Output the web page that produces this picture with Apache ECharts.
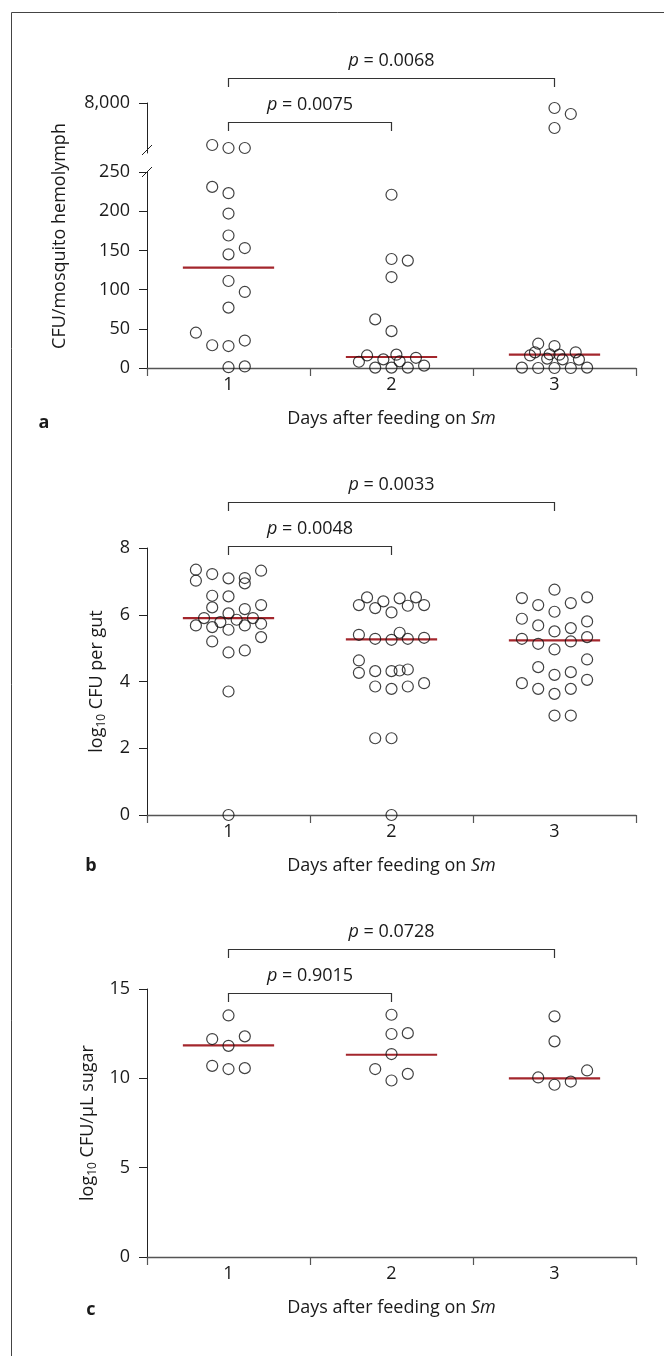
<!DOCTYPE html>
<html><head><meta charset="utf-8">
<script src="https://cdn.jsdelivr.net/npm/echarts@6/dist/echarts.min.js"></script>
<style>html,body{margin:0;padding:0;background:#fff}#c{width:664px;height:1356px}</style>
</head><body><div id="c"></div>
<script>
// ---------- DATA ----------
const days = ['1', '2', '3'];
const xTitle = 'Days after feeding on {it|Sm}';

// Panel a: CFU/mosquito hemolymph  ([jitter offset, value])
const hemoTicksLower = [0, 50, 100, 150, 200, 250];
const hemoTicksUpper = [8000];
const hemoDay1 = [[-0.2,45],[-0.1,231],[-0.1,29],[0,223],[0,197],[0,169],[0,145],[0,111],[0,77],[0,28],[0,1],[0.1,153],[0.1,97],[0.1,35],[0.1,2]];
const hemoDay2 = [[0,221],[0,139],[0.1,137],[0,116],[-0.1,62],[0,47],[-0.15,16],[-0.2,8],[-0.1,0.5],[-0.05,11],[0,0.5],[0.03,17],[0.05,8.5],[0.1,0.5],[0.15,13],[0.2,3]];
const hemoDay3 = [[-0.2,0.5],[-0.1,0],[0,0],[0.1,0],[0.2,0.5],[-0.15,16],[-0.12,20],[-0.1,31],[-0.045,12],[-0.03,17.5],[0,28],[0.03,17],[0.05,11],[0.13,20],[0.15,10.7]];
const hemoHighDay1 = [[-0.1,3800],[0,3500],[0.1,3500]];
const hemoHighDay3 = [[0,7500],[0.1,6900],[0,5500]];
const hemoMedians = [128, 14, 17];
const hemoP = [{from:1, to:3, p:'0.0068'}, {from:1, to:2, p:'0.0075'}];

// Panel b: log10 CFU per gut
const gutTicks = [0, 2, 4, 6, 8];
const gutDay1 = [[-0.2,7.35],[-0.2,7.02],[-0.1,7.22],[0,7.09],[0.1,7.10],[0.1,6.94],[0.2,7.32],[-0.1,6.57],[0,6.55],[-0.1,6.22],[0.1,6.17],[0.2,6.29],[0,6.04],[-0.15,5.90],[-0.05,5.78],[0.05,5.85],[0.15,5.90],[-0.2,5.68],[-0.1,5.63],[0,5.55],[0.1,5.68],[0.2,5.73],[0.2,5.33],[-0.1,5.20],[0,4.87],[0.1,4.93],[0,3.70],[0,0]];
const gutDay2 = [[-0.15,6.52],[-0.2,6.29],[-0.05,6.40],[-0.1,6.20],[0,6.07],[0.05,6.49],[0.15,6.52],[0.1,6.27],[0.2,6.29],[-0.2,5.40],[-0.1,5.28],[0,5.25],[0.05,5.46],[0.1,5.28],[0.2,5.31],[-0.2,4.63],[-0.2,4.26],[-0.1,4.31],[0,4.31],[0.05,4.33],[0.1,4.36],[-0.1,3.85],[0,3.78],[0.1,3.85],[0.2,3.95],[-0.1,2.30],[0,2.30],[0,0]];
const gutDay3 = [[0,6.75],[-0.2,6.50],[0.2,6.52],[-0.1,6.29],[0.1,6.35],[0,6.09],[-0.2,5.88],[0.2,5.80],[-0.1,5.68],[0.1,5.60],[0,5.50],[-0.2,5.28],[0.2,5.33],[-0.1,5.13],[0.1,5.20],[0,4.96],[0.2,4.66],[-0.1,4.43],[0.1,4.28],[0,4.20],[0.2,4.05],[-0.2,3.95],[-0.1,3.78],[0,3.63],[0.1,3.78],[0,2.98],[0.1,2.98]];
const gutMedians = [5.90, 5.26, 5.23];
const gutP = [{from:1, to:3, p:'0.0033'}, {from:1, to:2, p:'0.0048'}];

// Panel c: log10 CFU/µL sugar
const sugarTicks = [0, 5, 10, 15];
const sugarDay1 = [[0,13.52],[-0.1,12.20],[0.1,12.35],[0,11.82],[-0.1,10.70],[0,10.52],[0.1,10.57]];
const sugarDay2 = [[0,13.56],[0,12.48],[0.1,12.53],[0,11.36],[-0.1,10.52],[0.1,10.25],[0,9.88]];
const sugarDay3 = [[0,13.47],[0,12.07],[-0.1,10.05],[0,9.64],[0.1,9.82],[0.2,10.44]];
const sugarMedians = [11.84, 11.32, 10.0];
const sugarP = [{from:1, to:3, p:'0.0728'}, {from:1, to:2, p:'0.9015'}];

// ---------- LAYOUT / STYLE ----------
const FONT = 'Open Sans';
const FS = 18;
const TXT = '#1a1a1a';
const GL = 147, GR = 28;
const MEDIAN_HALF = 0.28;
const RED = '#a3262c';

function toPts(arrs) {
  const out = [];
  arrs.forEach((arr, i) => arr.forEach(([dx, v]) => out.push([i + 1 + dx, v])));
  return out;
}

const grids = [
  {left: GL, right: GR, top: 103, height: 50},   // a upper (break)
  {left: GL, right: GR, top: 172, height: 196},  // a lower
  {left: GL, right: GR, top: 548, height: 267},  // b
  {left: GL, right: GR, top: 989, height: 268}   // c
];

const labelStyle = {fontSize: FS, fontFamily: FONT, color: TXT};
function catAxis(g) {
  return {
    type: 'category', gridIndex: g, data: days, boundaryGap: true,
    axisLine: {show: true, lineStyle: {color: '#555', width: 1.3}},
    axisTick: {show: true, length: 8, alignWithLabel: false, lineStyle: {color: '#555', width: 1.2}},
    axisLabel: Object.assign({margin: 8}, labelStyle),
    splitLine: {show: false},
    name: xTitle, nameLocation: 'middle', nameGap: 42,
    nameTextStyle: {fontSize: FS, fontFamily: FONT, color: TXT, rich: {it: {fontStyle: 'italic', fontSize: FS, fontFamily: FONT, color: TXT}}}
  };
}
function hidX(g) { return {type: 'value', gridIndex: g, min: 0.5, max: 3.5, show: false}; }
function valY(g, ticks, extra) {
  return Object.assign({
    type: 'value', gridIndex: g, min: ticks[0], max: ticks[ticks.length - 1],
    interval: ticks[1] - ticks[0],
    axisLine: {show: true, lineStyle: {color: '#222', width: 1}},
    axisTick: {show: true, length: 8, lineStyle: {color: '#222', width: 1}},
    axisLabel: Object.assign({margin: 17}, labelStyle),
    splitLine: {show: false}
  }, extra || {});
}
const subRich = {
  t: {fontSize: FS, fontFamily: FONT, color: TXT},
  s: {fontSize: 12, fontFamily: FONT, color: TXT, padding: [10, 0, 0, 0]}
};

const xAxis = [hidX(0), catAxis(1), hidX(1), catAxis(2), hidX(2), catAxis(3), hidX(3)];
const yAxis = [
  {
    type: 'value', gridIndex: 0, min: 3000, max: 8000,
    axisLine: {show: true, lineStyle: {color: '#222', width: 1}},
    axisTick: {show: true, length: 8, customValues: hemoTicksUpper, lineStyle: {color: '#222'}},
    axisLabel: Object.assign({margin: 17, customValues: hemoTicksUpper, formatter: v => Number(v).toLocaleString('en-US')}, labelStyle),
    splitLine: {show: false}
  },
  valY(1, hemoTicksLower),
  valY(2, gutTicks, {name: '{t|log}{s|10}{t| CFU per gut}', nameLocation: 'middle', nameGap: 39, nameTextStyle: {rich: subRich}}),
  valY(3, sugarTicks, {name: '{t|log}{s|10}{t| CFU/μL sugar}', nameLocation: 'middle', nameGap: 39, nameTextStyle: {rich: subRich}})
];

const scatterStyle = {color: 'rgba(255,255,255,0)', borderColor: '#111', borderWidth: 1.2};
function scatter(xi, yi, data) {
  return {type: 'scatter', xAxisIndex: xi, yAxisIndex: yi, data: data, symbol: 'circle', symbolSize: 11,
    itemStyle: scatterStyle, z: 5, silent: true};
}
function medians(xi, yi, meds) {
  return {type: 'custom', xAxisIndex: xi, yAxisIndex: yi, z: 3, silent: true,
    data: meds.map((m, i) => [i + 1, m]),
    renderItem: (params, api) => {
      const d = api.value(0), m = api.value(1);
      const p1 = api.coord([d - MEDIAN_HALF, m]);
      const p2 = api.coord([d + MEDIAN_HALF, m]);
      return {type: 'line', shape: {x1: p1[0], y1: p1[1], x2: p2[0], y2: p2[1]}, style: {stroke: RED, lineWidth: 2.2}};
    }};
}
// bracket line y-positions (pixels) for [outer, inner] brackets per panel
function brackets(xi, yi, list, ys) {
  return {type: 'custom', xAxisIndex: xi, yAxisIndex: yi, z: 4, silent: true, clip: false,
    data: list.map(b => [b.from, b.to]),
    renderItem: (params, api) => {
      const yRef = api.coord([1, 0])[1];
      const x1 = api.coord([api.value(0), 0])[0];
      const x2 = api.coord([api.value(1), 0])[0];
      const yb = ys[params.dataIndex] + 0.5;
      return {type: 'group', children: [
        {type: 'polyline', shape: {points: [[x1, yb + 8.5], [x1, yb], [x2, yb], [x2, yb + 8.5]]},
          style: {stroke: '#333', fill: null, lineWidth: 1.2}},
        {type: 'text', x: (x1 + x2) / 2, y: yb - 18,
          style: {text: '{i|p} = ' + list[params.dataIndex].p, align: 'center', verticalAlign: 'middle',
            fontSize: FS, fontFamily: FONT, fill: TXT,
            rich: {i: {fontStyle: 'italic', fontSize: FS, fontFamily: FONT, fill: TXT}}}}
      ]};
    }};
}

const series = [
  scatter(0, 0, toPts([hemoHighDay1, [], hemoHighDay3])),
  medians(2, 1, hemoMedians),
  scatter(2, 1, toPts([hemoDay1, hemoDay2, hemoDay3])),
  brackets(2, 1, hemoP, [78, 122]),
  medians(4, 2, gutMedians),
  scatter(4, 2, toPts([gutDay1, gutDay2, gutDay3])),
  brackets(4, 2, gutP, [502, 546]),
  medians(6, 3, sugarMedians),
  scatter(6, 3, toPts([sugarDay1, sugarDay2, sugarDay3])),
  brackets(6, 3, sugarP, [949, 993])
];

const letterStyle = {fontSize: FS, fontFamily: FONT, fontWeight: 'bold', fill: TXT};
const graphic = [
  {type: 'line', shape: {x1: 11.5, y1: 12.5, x2: 664, y2: 12.5}, style: {stroke: '#444', lineWidth: 1}},
  {type: 'line', shape: {x1: 11.5, y1: 12.5, x2: 11.5, y2: 1356}, style: {stroke: '#444', lineWidth: 1}},
  // axis break marks (panel a)
  {type: 'line', shape: {x1: 142, y1: 155, x2: 152, y2: 145}, style: {stroke: '#222', lineWidth: 1}},
  {type: 'line', shape: {x1: 142, y1: 177, x2: 152, y2: 167}, style: {stroke: '#222', lineWidth: 1}},
  {type: 'text', x: 60, y: 236, rotation: Math.PI / 2,
    style: {text: 'CFU/mosquito hemolymph', align: 'center', verticalAlign: 'middle', fontSize: FS, fontFamily: FONT, fill: TXT}},
  {type: 'text', x: 44, y: 423, style: Object.assign({text: 'a', align: 'center', verticalAlign: 'middle'}, letterStyle)},
  {type: 'text', x: 91, y: 866, style: Object.assign({text: 'b', align: 'center', verticalAlign: 'middle'}, letterStyle)},
  {type: 'text', x: 91, y: 1310, style: Object.assign({text: 'c', align: 'center', verticalAlign: 'middle'}, letterStyle)}
];

const chart = echarts.init(document.getElementById('c'), null, {renderer: 'canvas'});
chart.setOption({
  animation: false,
  backgroundColor: '#fff',
  textStyle: {fontFamily: FONT},
  grid: grids, xAxis: xAxis, yAxis: yAxis, series: series, graphic: graphic
});
</script></body></html>
